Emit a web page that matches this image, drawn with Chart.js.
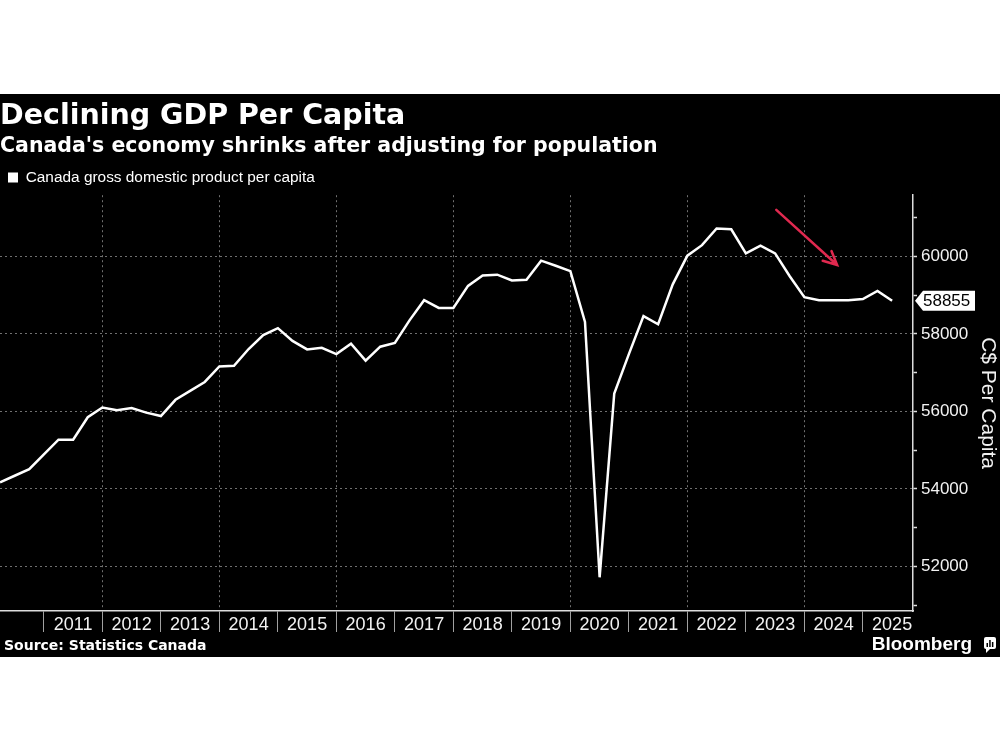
<!DOCTYPE html>
<html>
<head>
<meta charset="utf-8">
<script src="https://cdn.jsdelivr.net/npm/chart.js@4.4.1/dist/chart.umd.min.js"></script>
<style>
  html, body { margin: 0; padding: 0; background: #fff; }
  #wrap { position: absolute; left: 0; top: 94px; width: 1000px; height: 563px; background: #000; }
</style>
</head>
<body>
<div id="wrap"><canvas id="gdpChart"></canvas></div>
<script>
// quarterly data, plotted at the end of each quarter
const quarters = [
  '2010-Q1', '2010-Q2', '2010-Q3', '2010-Q4',
  '2011-Q1', '2011-Q2', '2011-Q3', '2011-Q4',
  '2012-Q1', '2012-Q2', '2012-Q3', '2012-Q4',
  '2013-Q1', '2013-Q2', '2013-Q3', '2013-Q4',
  '2014-Q1', '2014-Q2', '2014-Q3', '2014-Q4',
  '2015-Q1', '2015-Q2', '2015-Q3', '2015-Q4',
  '2016-Q1', '2016-Q2', '2016-Q3', '2016-Q4',
  '2017-Q1', '2017-Q2', '2017-Q3', '2017-Q4',
  '2018-Q1', '2018-Q2', '2018-Q3', '2018-Q4',
  '2019-Q1', '2019-Q2', '2019-Q3', '2019-Q4',
  '2020-Q1', '2020-Q2', '2020-Q3', '2020-Q4',
  '2021-Q1', '2021-Q2', '2021-Q3', '2021-Q4',
  '2022-Q1', '2022-Q2', '2022-Q3', '2022-Q4',
  '2023-Q1', '2023-Q2', '2023-Q3', '2023-Q4',
  '2024-Q1', '2024-Q2', '2024-Q3', '2024-Q4',
  '2025-Q1', '2025-Q2'
];

const gdpPerCapita = [
  54170, 54340, 54510, 54890,
  55270, 55270, 55850, 56100,
  56030, 56090, 55970, 55880,
  56300, 56530, 56760, 57160,
  57180, 57610, 57970, 58150,
  57820, 57600, 57640, 57480,
  57750, 57310, 57670, 57770,
  58350, 58870, 58670, 58670,
  59240, 59510, 59530, 59380,
  59400, 59890, 59760, 59620,
  58310, 51720, 56460, 57480,
  58460, 58250, 59280, 60020,
  60290, 60720, 60700, 60080,
  60280, 60080, 59490, 58950,
  58870, 58870, 58870, 58900,
  59110, 58855
];

const yearLabels = [2011, 2012, 2013, 2014, 2015, 2016, 2017, 2018, 2019, 2020, 2021, 2022, 2023, 2024, 2025];
const majorTicks = [52000, 54000, 56000, 58000, 60000];
const minorTicks = [51000, 53000, 55000, 57000, 59000, 61000];

function quarterEnd(q) {
  const parts = q.split('-Q');
  return Number(parts[0]) + Number(parts[1]) / 4;
}

const points = quarters.map((q, i) => ({ x: quarterEnd(q), y: gdpPerCapita[i] }));

const clear = 'rgba(0,0,0,0)';

const extras = {
  id: 'extras',
  afterDatasetsDraw(chart) {
    const { ctx, scales: { x, y } } = chart;
    // red arrow pointing at the recent decline
    const x0 = x.getPixelForValue(2023.52), y0 = y.getPixelForValue(61200);
    const x1 = x.getPixelForValue(2024.56), y1 = y.getPixelForValue(59780);
    const ang = Math.atan2(y1 - y0, x1 - x0);
    ctx.save();
    ctx.strokeStyle = '#e0294f';
    ctx.lineWidth = 2.5;
    ctx.lineCap = 'round';
    ctx.beginPath();
    ctx.moveTo(x0, y0);
    ctx.lineTo(x1, y1);
    ctx.moveTo(x1 - 15 * Math.cos(ang - 0.45), y1 - 15 * Math.sin(ang - 0.45));
    ctx.lineTo(x1, y1);
    ctx.lineTo(x1 - 15 * Math.cos(ang + 0.45), y1 - 15 * Math.sin(ang + 0.45));
    ctx.stroke();
    ctx.restore();
  },
  afterDraw(chart) {
    const { ctx, scales: { y } } = chart;
    const h = chart.height;
    ctx.save();
    // last value tag
    const last = gdpPerCapita[gdpPerCapita.length - 1];
    const ty = y.getPixelForValue(last);
    const tx = y.left + 2;
    ctx.fillStyle = '#fff';
    ctx.beginPath();
    ctx.moveTo(tx, ty);
    ctx.lineTo(tx + 8, ty - 10);
    ctx.lineTo(tx + 60, ty - 10);
    ctx.lineTo(tx + 60, ty + 10);
    ctx.lineTo(tx + 8, ty + 10);
    ctx.closePath();
    ctx.fill();
    ctx.fillStyle = '#000';
    ctx.font = '17px "Liberation Sans"';
    ctx.textBaseline = 'middle';
    ctx.textAlign = 'left';
    ctx.fillText(String(last), tx + 8, ty + 1);

    // source and logo
    ctx.fillStyle = '#fff';
    ctx.font = 'bold 14px "DejaVu Sans"';
    ctx.fillText('Source: Statistics Canada', 4, h - 11);
    ctx.font = 'bold 19px "Liberation Sans"';
    ctx.textAlign = 'right';
    ctx.fillText('Bloomberg', 972, h - 12);
    // small logo mark
    ctx.beginPath();
    ctx.roundRect(984, h - 20, 12, 12, 2);
    ctx.fill();
    ctx.beginPath();
    ctx.moveTo(986, h - 8);
    ctx.lineTo(986, h - 4);
    ctx.lineTo(990, h - 8);
    ctx.fill();
    ctx.fillStyle = '#000';
    ctx.fillRect(986.5, h - 14, 1.5, 4);
    ctx.fillRect(989.2, h - 17, 1.5, 7);
    ctx.fillRect(991.9, h - 15, 1.5, 5);
    ctx.restore();
  }
};

const ctx = document.getElementById('gdpChart').getContext('2d');

new Chart(ctx, {
  type: 'line',
  data: {
    datasets: [{
      label: 'Canada gross domestic product per capita',
      data: points,
      borderColor: '#ffffff',
      backgroundColor: '#ffffff',
      borderWidth: 2.5,
      pointRadius: 0,
      tension: 0
    }]
  },
  options: {
    responsive: true,
    maintainAspectRatio: false,
    animation: false,
    events: [],
    layout: { padding: { left: 0, right: 0, top: 0, bottom: 24 } },
    plugins: {
      tooltip: { enabled: false },
      title: {
        display: true,
        text: 'Declining GDP Per Capita',
        align: 'start',
        color: '#fff',
        font: { family: 'DejaVu Sans', weight: 'bold', size: 28.5, lineHeight: 1.2 },
        padding: { top: 5, bottom: 0 }
      },
      subtitle: {
        display: true,
        text: "Canada's economy shrinks after adjusting for population",
        align: 'start',
        color: '#fff',
        font: { family: 'DejaVu Sans', weight: 'bold', size: 20.5, lineHeight: 1.2 },
        padding: { top: 1, bottom: 3 }
      },
      legend: {
        display: true,
        align: 'start',
        labels: {
          color: '#fff',
          boxWidth: 10,
          boxHeight: 10,
          padding: 8,
          font: { family: 'Liberation Sans', size: 15.4 },
          generateLabels: chart => Chart.defaults.plugins.legend.labels.generateLabels(chart)
            .map(item => Object.assign(item, { lineWidth: 0 }))
        }
      }
    },
    scales: {
      x: {
        type: 'linear',
        min: 2010.25,
        max: 2025.857,
        afterBuildTicks(scale) {
          const ticks = [];
          yearLabels.forEach(yr => {
            ticks.push({ value: yr });
            ticks.push({ value: yr + 0.5 });
          });
          scale.ticks = ticks;
        },
        afterFit(scale) { scale.height = 22; },
        grid: {
          color: c => (c.tick && Number.isInteger(c.tick.value) && c.tick.value % 2 === 0) ? '#707070' : clear,
          lineWidth: 1,
          tickLength: 21,
          tickWidth: 1,
          tickBorderDash: [],
          tickColor: c => (c.tick && Number.isInteger(c.tick.value)) ? '#a0a0a0' : clear
        },
        border: { display: true, color: '#dddddd', width: 1.5, dash: [2, 3] },
        ticks: {
          autoSkip: false,
          maxRotation: 0,
          minRotation: 0,
          padding: -18,
          color: '#f2f2f2',
          font: { family: 'Liberation Sans', size: 18 },
          callback: v => Number.isInteger(v) ? '' : String(Math.floor(v))
        }
      },
      y: {
        position: 'right',
        min: 50850,
        max: 61580,
        afterBuildTicks(scale) {
          scale.ticks = majorTicks.concat(minorTicks).sort((a, b) => a - b).map(v => ({ value: v }));
        },
        afterFit(scale) { scale.width = 87; },
        grid: {
          color: c => (c.tick && majorTicks.includes(c.tick.value)) ? '#707070' : clear,
          lineWidth: 1,
          tickLength: 4,
          tickWidth: 1.5,
          tickBorderDash: [],
          tickColor: '#dddddd'
        },
        border: { display: true, color: '#dddddd', width: 1.5, dash: [2, 3] },
        ticks: {
          padding: 4,
          color: '#f2f2f2',
          font: { family: 'Liberation Sans', size: 17 },
          callback: v => majorTicks.includes(v) ? String(v) : ''
        },
        title: {
          display: true,
          text: 'C$ Per Capita',
          color: '#f2f2f2',
          font: { family: 'Liberation Sans', size: 21 },
          padding: { top: 0, bottom: 0 }
        }
      }
    }
  },
  plugins: [extras]
});
</script>
</body>
</html>
